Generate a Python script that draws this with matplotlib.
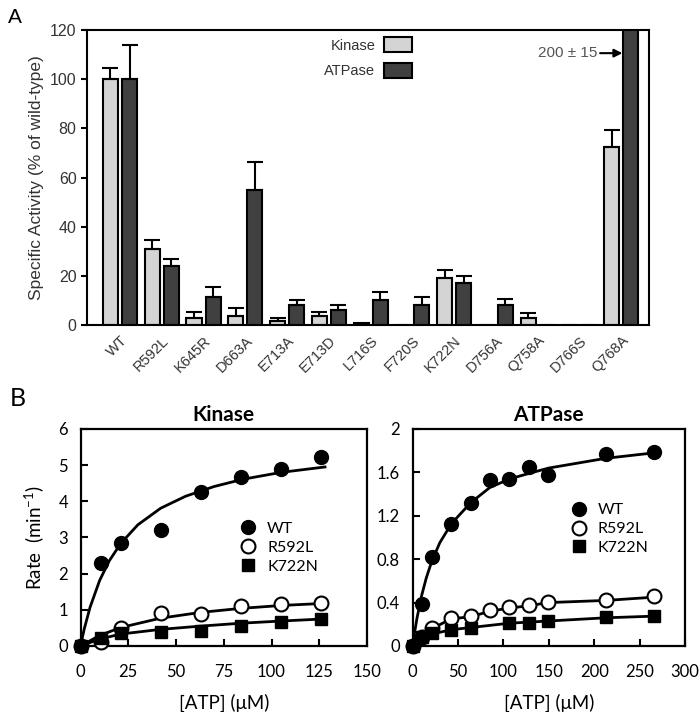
import numpy as np
import matplotlib
matplotlib.use('Agg')
import matplotlib.pyplot as plt
from matplotlib.patches import Patch
from matplotlib.lines import Line2D

# ---- panel A data (% of wild-type) ----
mutants = ['WT', 'R592L', 'K645R', 'D663A', 'E713A', 'E713D', 'L716S',
           'F720S', 'K722N', 'D756A', 'Q758A', 'D766S', 'Q768A']
kinase_act = [100, 31, 3, 3.5, 1.5, 3.5, 0.7, 0, 19, 0, 3, 0, 72.5]
kinase_err = [4.5, 3.7, 2.2, 3.4, 1.5, 1.8, 0, 0, 3.4, 0, 1.7, 0, 7]
atpase_act = [100, 24, 11.5, 55, 8, 6, 10, 8, 17, 8, 0, 0, 200]
atpase_err = [14, 3, 3.8, 11.5, 2, 2, 3.4, 3.6, 3, 2.5, 0, 0, 0]

# ---- panel B data: kinase ----
kin_atp = [0, 10.5, 21, 42, 63, 84, 105, 126]
kin_wt = [0, 2.30, 2.85, 3.22, 4.25, 4.66, 4.88, 5.23]
kin_r592l = [0, 0.12, 0.49, 0.90, 0.88, 1.10, 1.15, 1.18]
kin_k722n = [0, 0.23, 0.35, 0.40, 0.42, 0.56, 0.67, 0.76]
# fitted curves
kin_fit_x = [0, 2, 5, 10, 15, 21, 30, 42, 55, 70, 85, 105, 128]
kin_fit_wt = [0, 0.48, 1.07, 1.81, 2.35, 2.83, 3.35, 3.81, 4.14, 4.41, 4.61, 4.80, 4.95]
kin_fit_x2 = [0, 10, 21, 42, 63, 84, 105, 128]
kin_fit_r592l = [0, 0.29, 0.51, 0.77, 0.93, 1.04, 1.12, 1.18]
kin_fit_k722n = [0, 0.19, 0.33, 0.46, 0.55, 0.63, 0.69, 0.75]

# ---- panel B data: ATPase ----
atp_x = [0, 10.6, 21.3, 42.6, 63.9, 85.2, 106.5, 127.8, 149, 213, 266]
atp_wt = [0, 0.39, 0.82, 1.12, 1.32, 1.53, 1.54, 1.65, 1.58, 1.77, 1.79]
atp_r592l = [0, 0.08, 0.163, 0.255, 0.276, 0.33, 0.362, 0.378, 0.408, 0.424, 0.46]
atp_x_k = [0, 10.6, 21.3, 42.6, 63.9, 106.5, 127.8, 149, 213, 266]
atp_k722n = [0, 0.086, 0.117, 0.147, 0.169, 0.215, 0.215, 0.233, 0.264, 0.276]
atp_fit_x = [0, 2, 5, 10, 15, 21, 30, 43, 64, 85, 107, 128, 150, 213, 266]
atp_fit_wt = [0, 0.114, 0.263, 0.465, 0.625, 0.778, 0.952, 1.13, 1.32, 1.46, 1.54, 1.59, 1.64, 1.73, 1.78]
atp_fit_x2 = [0, 21.3, 42.6, 63.9, 85.2, 106.5, 127.8, 149, 213, 266]
atp_fit_r592l = [0, 0.16, 0.25, 0.27, 0.32, 0.35, 0.37, 0.40, 0.42, 0.45]
atp_fit_k722n = [0, 0.11, 0.15, 0.17, 0.19, 0.21, 0.22, 0.23, 0.26, 0.275]

fig = plt.figure(figsize=(7, 7.12), dpi=100)

# ================= panel A =================
gray_txt = '#333333'
plt.rcParams['font.family'] = ['Liberation Sans', 'DejaVu Sans']
axA = fig.add_axes([0.1243, 0.5435, 0.803, 0.4143])
x = np.arange(len(mutants))
w = 0.36
off = 0.228
axA.bar(x - off, kinase_act, w, color='#d4d4d4', edgecolor='black', linewidth=1.5, zorder=2)
axA.bar(x + off, atpase_act, w, color='#404040', edgecolor='black', linewidth=1.5, zorder=2)
for xs, vals, errs in [(x - off, kinase_act, kinase_err), (x + off, atpase_act, atpase_err)]:
    for xi, v, e in zip(xs, vals, errs):
        if e > 0:
            axA.errorbar(xi, v, yerr=[[0], [e]], fmt='none', ecolor='black',
                         elinewidth=1.5, capsize=6, capthick=1.5, zorder=3)
axA.set_xlim(-0.79, 12.67)
axA.set_ylim(0, 120)
axA.set_yticks([0, 20, 40, 60, 80, 100, 120])
axA.set_xticks(x)
axA.set_xticklabels(mutants, rotation=45, ha='right', va='top', rotation_mode='anchor')
axA.tick_params(axis='x', length=0, pad=6, labelsize=10.5, labelcolor=gray_txt)
axA.tick_params(axis='y', direction='out', length=4, width=1.5, labelsize=11.5, labelcolor=gray_txt)
for s in axA.spines.values():
    s.set_linewidth(1.5)
axA.set_ylabel('Specific Activity (% of wild-type)', fontsize=12.5, color=gray_txt, labelpad=4)
hA = [Patch(facecolor='#d4d4d4', edgecolor='black', linewidth=1.5),
      Patch(facecolor='#404040', edgecolor='black', linewidth=1.5)]
legA = axA.legend(hA, ['Kinase', 'ATPase'], loc='upper right', bbox_to_anchor=(0.578, 0.975),
                  frameon=False, markerfirst=False, fontsize=10.5, handlelength=1.9,
                  handleheight=1.2, labelspacing=0.7, borderpad=0, borderaxespad=0,
                  handletextpad=0.6)
for t in legA.get_texts():
    t.set_color(gray_txt)
axA.annotate('200 \u00b1 15', xy=(12.03, 110.6), xytext=(11.43, 110.6), ha='right', va='center',
             fontsize=11, color='#555555',
             arrowprops=dict(arrowstyle='-|>', color='black', lw=1.5, shrinkA=0, shrinkB=0,
                             mutation_scale=12))
fig.text(0.012, 0.975, 'A', fontsize=15, ha='left', va='center')

# ================= panel B =================
fB = ['Lato', 'DejaVu Sans']


def style_b(ax):
    for s in ax.spines.values():
        s.set_linewidth(1.6)
    ax.tick_params(direction='in', length=5, width=1.5, labelsize=12,
                   top=False, right=False)
    ax.tick_params(axis='x', pad=13)
    ax.tick_params(axis='y', pad=9)
    for lab in ax.get_xticklabels() + ax.get_yticklabels():
        lab.set_family(fB)


axK = fig.add_axes([0.115, 0.0927, 0.4093, 0.3048])
axK.plot(kin_fit_x, kin_fit_wt, color='black', lw=2, zorder=2)
axK.plot(kin_fit_x2, kin_fit_r592l, color='black', lw=2, zorder=2)
axK.plot(kin_fit_x2, kin_fit_k722n, color='black', lw=2, zorder=2)
axK.plot(kin_atp, kin_wt, 'o', color='black', ms=10, clip_on=False, zorder=3)
axK.plot(kin_atp, kin_r592l, 'o', mfc='white', mec='black', mew=1.5, ms=10, clip_on=False, zorder=3)
axK.plot(kin_atp, kin_k722n, 's', color='black', ms=9, clip_on=False, zorder=4)
axK.set_xlim(0, 150)
axK.set_ylim(0, 6)
axK.set_xticks([0, 25, 50, 75, 100, 125, 150])
axK.set_yticks([0, 1, 2, 3, 4, 5, 6])
style_b(axK)
axK.set_title('Kinase', fontsize=15, fontweight='bold', family=fB, pad=6)
axK.set_xlabel('[ATP] (\u03bcM)', fontsize=13.5, family=fB, labelpad=10)
axK.set_ylabel('Rate  (min$^{\\mathregular{-1}}$)', fontsize=13.5, family=fB, labelpad=8)

axP = fig.add_axes([0.5894, 0.0927, 0.3891, 0.3048])
axP.plot(atp_fit_x, atp_fit_wt, color='black', lw=2, zorder=2)
axP.plot(atp_fit_x2, atp_fit_r592l, color='black', lw=2, zorder=2)
axP.plot(atp_fit_x2, atp_fit_k722n, color='black', lw=2, zorder=2)
axP.plot(atp_x, atp_wt, 'o', color='black', ms=10, clip_on=False, zorder=3)
axP.plot(atp_x, atp_r592l, 'o', mfc='white', mec='black', mew=1.5, ms=10, clip_on=False, zorder=3)
axP.plot(atp_x_k, atp_k722n, 's', color='black', ms=9, clip_on=False, zorder=4)
axP.set_xlim(0, 300)
axP.set_ylim(0, 2)
axP.set_xticks([0, 50, 100, 150, 200, 250, 300])
axP.set_yticks([0, 0.4, 0.8, 1.2, 1.6, 2])
axP.set_yticklabels(['0', '0.4', '0.8', '1.2', '1.6', '2'])
style_b(axP)
axP.set_title('ATPase', fontsize=15, fontweight='bold', family=fB, pad=6)
axP.set_xlabel('[ATP] (\u03bcM)', fontsize=13.5, family=fB, labelpad=10)

for ax, pos in [(axK, (0.557, 0.452)), (axP, (0.58, 0.539))]:
    hB = [Line2D([], [], ls='none', marker='o', color='black', ms=10),
          Line2D([], [], ls='none', marker='o', mfc='white', mec='black', mew=1.5, ms=10),
          Line2D([], [], ls='none', marker='s', color='black', ms=9)]
    ax.legend(hB, ['WT', 'R592L', 'K722N'], loc='center left', bbox_to_anchor=pos,
              frameon=False, prop={'family': fB, 'size': 11.5}, handlelength=1.0,
              handletextpad=0.7, labelspacing=0.3, borderpad=0, borderaxespad=0)

fig.text(0.014, 0.44, 'B', fontsize=18, ha='left', va='center', family=fB)

fig.savefig('out.png', dpi=100)
